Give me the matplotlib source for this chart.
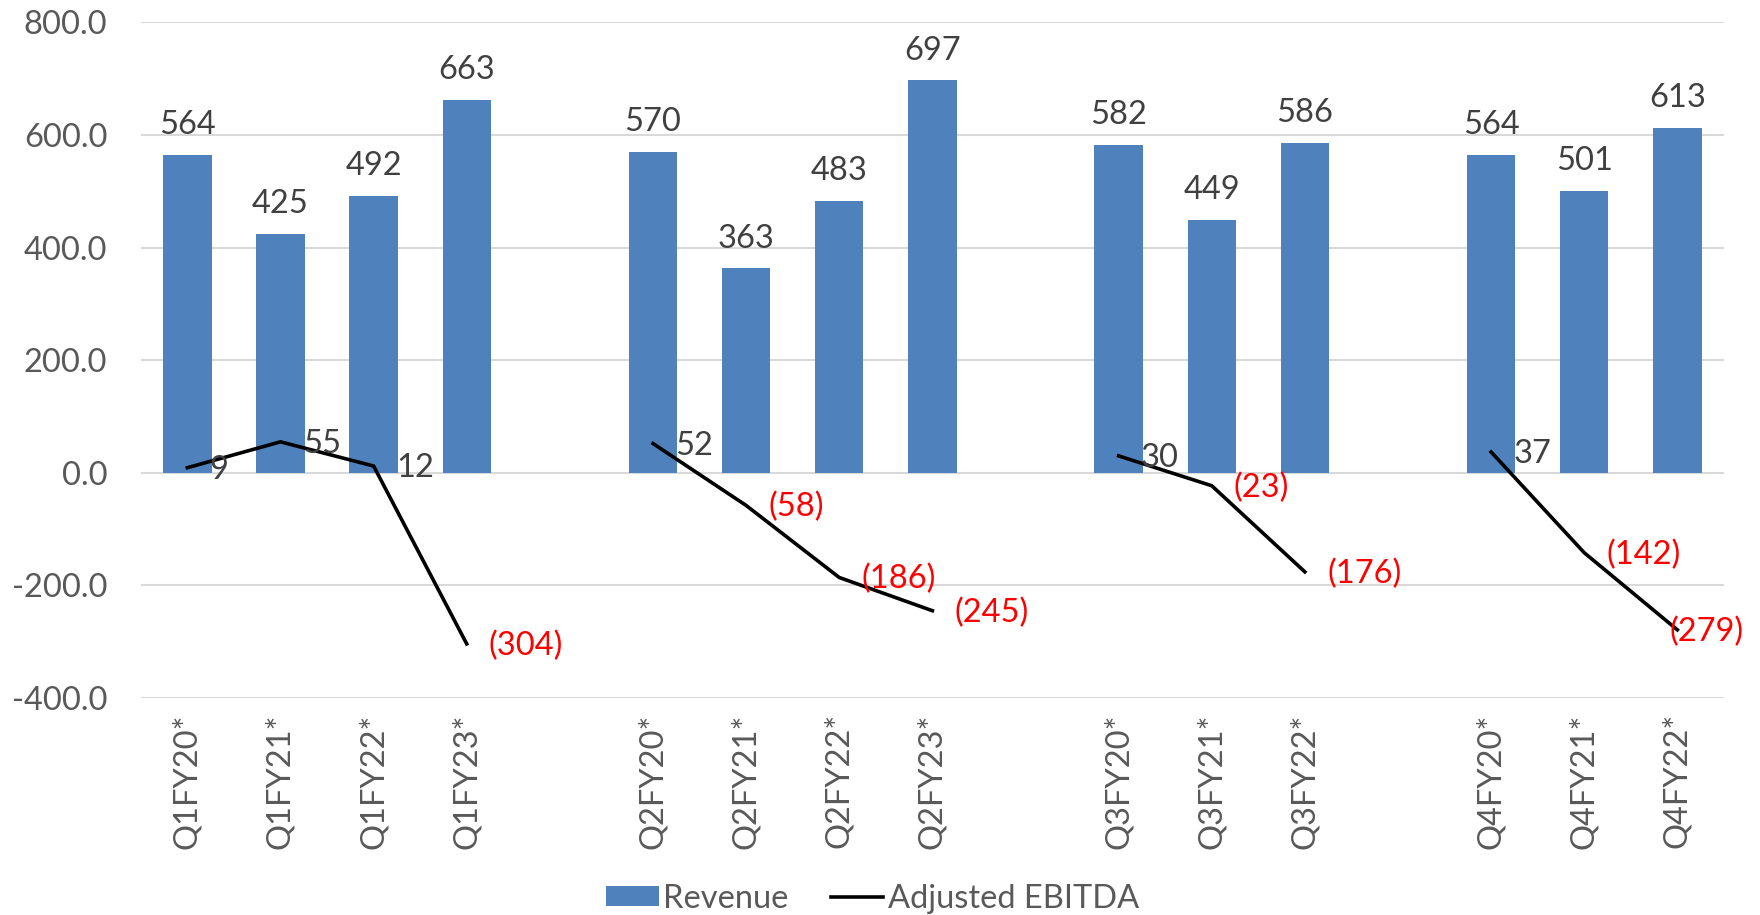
import numpy as np
import matplotlib
matplotlib.use("Agg")
import matplotlib.pyplot as plt
from matplotlib.patches import Patch
from matplotlib.lines import Line2D

plt.rcParams['font.family'] = ['Lato', 'DejaVu Sans']

categories = ["Q1FY20*", "Q1FY21*", "Q1FY22*", "Q1FY23*", "",
              "Q2FY20*", "Q2FY21*", "Q2FY22*", "Q2FY23*", "",
              "Q3FY20*", "Q3FY21*", "Q3FY22*", "",
              "Q4FY20*", "Q4FY21*", "Q4FY22*"]
revenue = [564, 425, 492, 663, None,
           570, 363, 483, 697, None,
           582, 449, 586, None,
           564, 501, 613]
ebitda = [9, 55, 12, -304, None,
          52, -58, -186, -245, None,
          30, -23, -176, None,
          37, -142, -279]
y_ticks = [-400, -200, 0, 200, 400, 600, 800]

BAR = "#4F81BD"
GRID = "#D9D9D9"
TXT = "#404040"
TICK = "#595959"
FS = 23.5

fig = plt.figure(figsize=(17.6, 9.15), dpi=100)
ax = fig.add_axes([0.080, 0.2372, 0.8995, 0.7383])

x = np.arange(len(categories))
rev = np.array([np.nan if v is None else v for v in revenue], dtype=float)
eb = np.array([np.nan if v is None else v for v in ebitda], dtype=float)

mask = ~np.isnan(rev)
ax.bar(x[mask], rev[mask], width=0.52, color=BAR, zorder=2)
ax.plot(x, eb, color="black", lw=2.6, zorder=3, solid_joinstyle='miter')

for xi, v in zip(x[mask], rev[mask]):
    ax.annotate(f"{v:.0f}", (xi, v), xytext=(0, 15), textcoords="offset points",
                ha="center", va="baseline", fontsize=FS, color=TXT, zorder=4)

last = len(x) - 1
for xi, v in zip(x, eb):
    if np.isnan(v):
        continue
    if v < 0:
        s, c = f"({abs(v):.0f})", "red"
    else:
        s, c = f"{v:.0f}", TXT
    dx = 16 if xi != last else -6   # last label pulled back inside the chart
    ax.annotate(s, (xi, v), xytext=(dx, -8), textcoords="offset points",
                ha="left", va="baseline", fontsize=FS, color=c, zorder=4)

ax.set_xlim(-0.5, len(categories) - 0.5)
ax.set_ylim(-400, 800)
ax.set_yticks(y_ticks)
ax.set_yticklabels([f"{t:.1f}" for t in y_ticks])
ax.set_xticks(x)
ax.set_xticklabels(categories, rotation=90)
ax.tick_params(axis='y', length=0, pad=24, labelsize=FS, labelcolor=TICK)
ax.tick_params(axis='x', length=0, pad=11, labelsize=FS, labelcolor=TICK)
ax.grid(axis='y', color=GRID, lw=1.5, zorder=0)
ax.set_axisbelow(True)
for sp in ax.spines.values():
    sp.set_visible(False)

handles = [Patch(facecolor=BAR, edgecolor='none'),
           Line2D([0], [0], color='black', lw=2.6)]
fig.legend(handles, ["Revenue", "Adjusted EBITDA"], loc='center',
           bbox_to_anchor=(0.496, 0.018), ncol=2, frameon=False,
           fontsize=FS, labelcolor=TICK, handlelength=1.6, handleheight=0.6,
           handletextpad=0.15, columnspacing=1.3)

fig.savefig("out.png", dpi=100)
